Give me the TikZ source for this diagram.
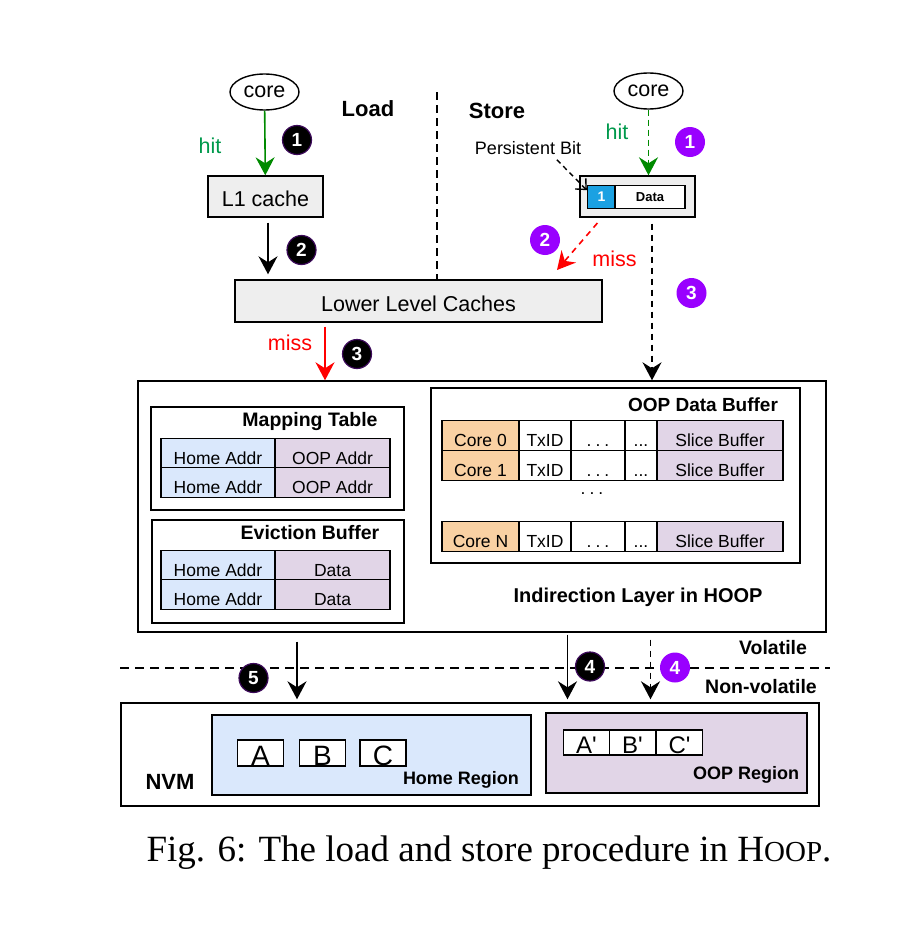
\documentclass[tikz,border=0pt]{standalone}
\usepackage{fontspec}
\setmainfont{Liberation Sans}
\newfontfamily\captionserif{Liberation Serif}
\usepackage{tikz}
\usetikzlibrary{arrows.meta, shapes.geometric, positioning, calc}
\definecolor{boxgray}{HTML}{EEEEEE}
\definecolor{homeblue}{HTML}{DAE8FC}
\definecolor{ooppurple}{HTML}{E1D5E7}
\definecolor{coreorange}{HTML}{F9D1A3}
\definecolor{pbitblue}{HTML}{1BA1E2}
\definecolor{hitgreen}{HTML}{008A00}
\definecolor{hittext}{HTML}{00994C}
\definecolor{missred}{HTML}{FF0000}
\definecolor{storeviolet}{RGB}{153,0,255}
\definecolor{badgering}{HTML}{3C0A5A}
\newcommand{\fsz}[1]{\fontsize{#1}{#1}\selectfont}
\newcommand{\widedots}{.\hspace{4pt}.\hspace{4pt}.}

\begin{document}
\begin{tikzpicture}[x=1pt, y=-1pt, >={Stealth[length=18pt, width=19pt, inset=6pt]}]
	\tikzstyle{box}=[draw, line width=1.4pt, inner sep=0pt]
	\tikzstyle{graybox}=[box, fill=boxgray, font=\fsz{21.5}, text height=20.5pt, text depth=0pt]
	\tikzstyle{corenode}=[ellipse, draw, line width=1.4pt, minimum width=69, minimum height=36, inner sep=0pt, font=\fsz{21.5}]
	\tikzstyle{cell}=[draw, line width=1.4pt, minimum height=29.5, inner sep=0pt, font=\fsz{17.5}, text height=22pt, text depth=0pt]
	\tikzstyle{letterbox}=[draw, line width=1.4pt, fill=white, minimum width=46, minimum height=26, inner sep=0pt, font=\fsz{28}, text height=24pt, text depth=0pt]
	\tikzstyle{title}=[inner sep=0pt, font=\bfseries\fsz{19.5}]
	\tikzstyle{badgeb}=[circle, fill=black, draw=badgering, line width=1.2pt, minimum size=29, inner sep=0pt, text=white, font=\bfseries\fsz{19}]
	\tikzstyle{badgep}=[circle, fill=storeviolet, minimum size=30, inner sep=0pt, text=white, font=\bfseries\fsz{19}]
	\tikzstyle{flow}=[->, line width=1.6pt]
	\tikzstyle{divider}=[line width=1.4pt, dash pattern=on 8pt off 5pt]
	\useasboundingbox (0,0) rectangle (906,934);

	% Load
	\node at (264.5,92) [corenode] (core_load) {core};
	\node at (368,109) [title, font=\bfseries\fsz{22}] (load_lbl) {Load};
	\node at (265.5,196.5) [graybox, minimum width=115, minimum height=41] (l1) {L1 cache};
	\node at (418.5,301) [graybox, minimum width=367, minimum height=42] (llc) {Lower Level Caches};
	\node at (210,146) [inner sep=0pt, text=hittext, font=\fsz{21.5}] (hit_load) {hit};
	\node at (290,343) [inner sep=0pt, text=missred, font=\fsz{21.5}] (miss_load) {miss};

	% Store
	\node at (648.5,91) [corenode] (core_store) {core};
	\node at (497,111) [title, font=\bfseries\fsz{22}] (store_lbl) {Store};
	\node at (637.5,196.5) [box, fill=boxgray, minimum width=115, minimum height=41] (line) {};
	\node at (601.5,197) [box, fill=pbitblue, minimum width=28, minimum height=23.5, text=white, font=\bfseries\fsz{14}] (pbit) {1};
	\node at (650,197) [box, fill=white, minimum width=70, minimum height=23.5, font=\bfseries\fsz{13}] (data) {Data};
	\node at (528,148) [inner sep=0pt, font=\fsz{18}] (pbit_lbl) {Persistent Bit};
	\node at (617,132) [inner sep=0pt, text=hittext, font=\fsz{21.5}] (hit_store) {hit};
	\node at (614.5,259) [inner sep=0pt, text=missred, font=\fsz{21.5}] (miss_store) {miss};

	% Indirection layer
	\node at (482,506.5) [box, minimum width=688, minimum height=251] (ind) {};
	\node at (277.5,458.5) [box, minimum width=253, minimum height=103] (map) {};
	\node at (310,421) [title] (map_lbl) {Mapping Table};
	\foreach \r/\y in {1/453, 2/482.5} {
		\node at (218,\y) [cell, fill=homeblue, minimum width=114] (map_home_\r) {Home Addr};
		\node at (332.5,\y) [cell, fill=ooppurple, minimum width=115] (map_oop_\r) {OOP Addr};
	}
	\node at (278,571.5) [box, minimum width=252, minimum height=103] (evict) {};
	\node at (310,533) [title] (evict_lbl) {Eviction Buffer};
	\foreach \r/\y in {1/565, 2/594.5} {
		\node at (218,\y) [cell, fill=homeblue, minimum width=114] (ev_home_\r) {Home Addr};
		\node at (332.5,\y) [cell, fill=ooppurple, minimum width=115] (ev_data_\r) {Data};
	}
	\node at (615.5,475.5) [box, minimum width=369, minimum height=175] (oopbuf) {};
	\node at (703,405) [title, font=\bfseries\fsz{19}] (oopbuf_lbl) {OOP Data Buffer};
	\foreach \r/\y/\c in {0/435.5/Core 0, 1/465.5/Core 1, n/536.5/Core N} {
		\node at (480.5,\y) [cell, fill=coreorange, minimum width=77, minimum height=30] (buf_core_\r) {\c};
		\node at (545,\y) [cell, fill=white, minimum width=52, minimum height=30] (buf_tx_\r) {TxID};
		\node at (598,\y) [cell, fill=white, minimum width=54, minimum height=30] (buf_dots_\r) {\widedots};
		\node at (641,\y) [cell, fill=white, minimum width=32, minimum height=30] (buf_more_\r) {...};
		\node at (720,\y) [cell, fill=ooppurple, minimum width=126, minimum height=30] (buf_slice_\r) {Slice Buffer};
	}
	\node at (592,494) [inner sep=0pt, font=\fsz{17.5}] (buf_gap) {\widedots};
	\node at (638,597) [title, font=\bfseries\fsz{20}] (ind_lbl) {Indirection Layer in HOOP};

	% NVM
	\node at (470,754.5) [box, minimum width=698, minimum height=103] (nvm) {};
	\node at (170,782) [title, font=\bfseries\fsz{22}] (nvm_lbl) {NVM};
	\node at (371.5,755) [box, fill=homeblue, minimum width=319, minimum height=80] (home) {};
	\foreach \n/\x in {A/260.5, B/322.5, C/383}
		\node at (\x,753) [letterbox] (\n_home) {\n};
	\node at (461,779.5) [title, font=\bfseries\fsz{18}] (home_lbl) {Home Region};
	\node at (676.5,753) [box, fill=ooppurple, minimum width=261, minimum height=80] (oopreg) {};
	\foreach \n/\x in {A/586.5, B/632.5, C/679.5}
		\node at (\x,742.5) [letterbox, minimum height=25, font=\fsz{24}, text height=21pt] (\n_oop) {\n\textquotesingle};
	\node at (746,775) [title, font=\bfseries\fsz{18}] (oopreg_lbl) {OOP Region};

	% Dividers
	\coordinate (div_top) at (437,92);
	\draw [divider] (div_top) -- (llc.north -| div_top);
	\coordinate (vol_w) at (120,668);
	\coordinate (vol_e) at (830,668);
	\draw [divider, dash pattern=on 9pt off 6pt] (vol_w) -- (vol_e);
	\node at (773,648) [title] (vol_lbl) {Volatile};
	\node at (761,687) [title] (nonvol_lbl) {Non-volatile};

	% Load arrows
	\coordinate (l2_x) at (268,0);
	\coordinate (l3_x) at (325,0);
	\draw [flow, hitgreen] (core_load) -- (l1);
	\draw [flow, shorten <=5pt, shorten >=5pt] (l1.south -| l2_x) -- (llc.north -| l2_x);
	\draw [flow, missred, shorten <=4pt] (llc.south -| l3_x) -- (ind.north -| l3_x);

	% Store arrows
	\coordinate (s3_x) at (652,0);
	\coordinate (s2_x) at (602,0);
	\coordinate (s2_tip) at (557,270);
	\coordinate (pb_x) at (552,0);
	\draw [flow, hitgreen, dash pattern=on 6pt off 4pt] (core_store) -- (core_store |- line.north);
	\draw [-{Straight Barb[length=8pt, width=15pt, line width=1.4pt]}, line width=1.4pt, dash pattern=on 5pt off 4pt, shorten <=7pt] (pbit_lbl.south -| pb_x) -- (pbit.155);
	\draw [flow, missred, dash pattern=on 6pt off 5pt, shorten <=7pt] (line.south -| s2_x) -- (s2_tip);
	\draw [flow, dash pattern=on 6pt off 5pt, shorten <=6pt] (line.south -| s3_x) -- (ind.north -| s3_x);

	% Write back to NVM
	\coordinate (w5_x) at (297,0);
	\coordinate (w4_x) at (567.5,0);
	\coordinate (s4_x) at (650.5,0);
	\draw [flow, shorten <=9pt, shorten >=3pt] (ind.south -| w5_x) -- (nvm.north -| w5_x);
	\draw [flow, shorten <=2pt, shorten >=3pt] (ind.south -| w4_x) -- (nvm.north -| w4_x);
	\draw [flow, dash pattern=on 6pt off 5pt, shorten <=7pt, shorten >=3pt] (ind.south -| s4_x) -- (nvm.north -| s4_x);

	% Steps
	\node at (297,140) [badgeb] (load_1) {1};
	\node at (301.5,250) [badgeb] (load_2) {2};
	\node at (357,354) [badgeb] (load_3) {3};
	\node at (590,666.5) [badgeb] (load_4) {4};
	\node at (253.5,678) [badgeb] (load_5) {5};
	\node at (690,142) [badgep] (store_1) {1};
	\node at (545,240) [badgep] (store_2) {2};
	\node at (691.5,293) [badgep] (store_3) {3};
	\node at (675,667.5) [badgep] (store_4) {4};

	% Caption
	\node at (489,853) [inner sep=0pt, font=\captionserif\fsz{37}] (caption) {Fig. 6: The load and store procedure in H{\fsz{29}OOP}.};
\end{tikzpicture}
\end{document}
